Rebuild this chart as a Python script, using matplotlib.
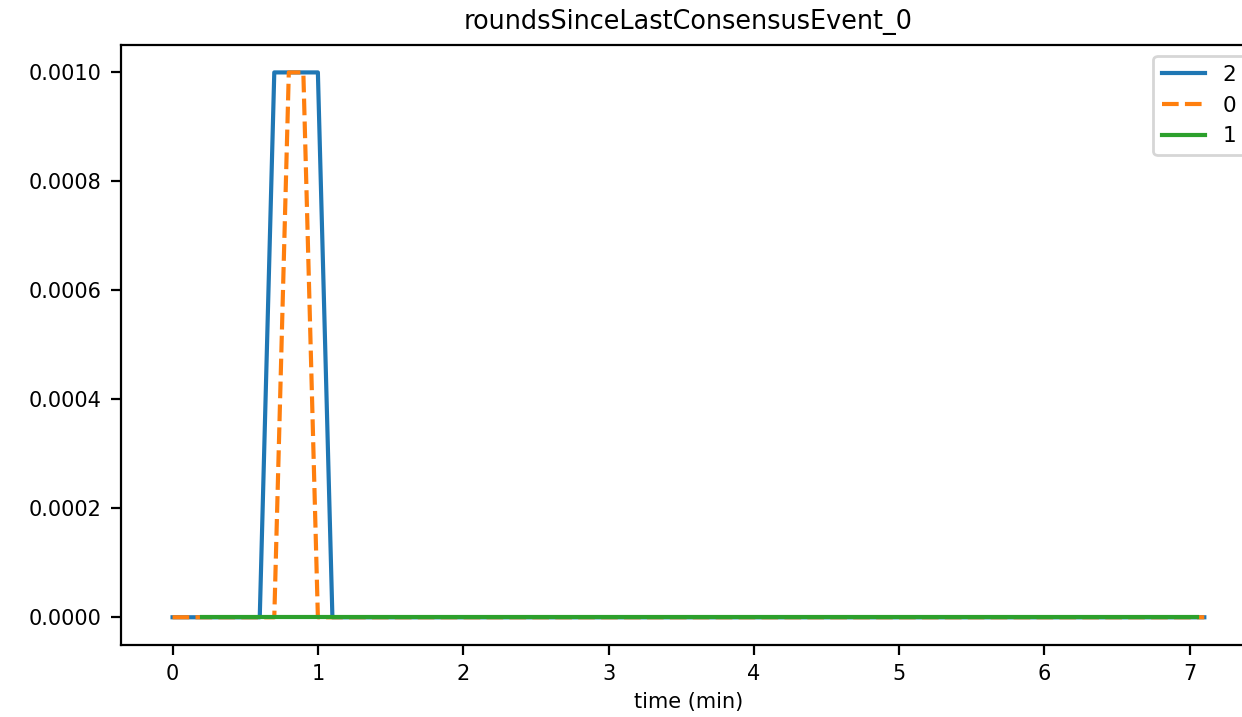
import numpy as np
import matplotlib
matplotlib.use("Agg")
import matplotlib.pyplot as plt

# time axis (minutes)
time_2 = np.round(np.arange(0, 7.11, 0.1), 2)
time_0 = np.round(np.arange(0, 7.11, 0.1), 2)
time_1 = list(np.round(np.arange(0.2, 7.01, 0.1), 2)) + [7.05]

# series values
vals_2 = np.zeros(len(time_2))
vals_2[7:11] = 0.001          # 0.7 .. 1.0 min
vals_0 = np.zeros(len(time_0))
vals_0[8:10] = 0.001          # 0.8 .. 0.9 min
vals_1 = np.zeros(len(time_1))

series = [("2", time_2, vals_2, "#1f77b4", None),
          ("0", time_0, vals_0, "#ff7f0e", (4, 1.5)),
          ("1", time_1, vals_1, "#2ca02c", None)]

fig = plt.figure(figsize=(6.21, 3.585), dpi=200)
ax = fig.add_axes([0.0974, 0.1011, 0.9138, 0.8359])

for name, t, v, c, d in series:
    line, = ax.plot(t, v, color=c, lw=1.5, label=name)
    if d:
        line.set_dashes(d)

ax.set_title("roundsSinceLastConsensusEvent_0", fontsize=9.2)
ax.set_xlabel("time (min)", fontsize=7.5, labelpad=3)
ax.set_xticks(range(8))
ax.set_yticks([0, 0.0002, 0.0004, 0.0006, 0.0008, 0.001])
ax.set_yticklabels(["0.0000", "0.0002", "0.0004", "0.0006", "0.0008", "0.0010"])
ax.tick_params(labelsize=7.5)
ax.legend(loc="upper right", fontsize=7.8)

fig.savefig("out.png", dpi=200)
